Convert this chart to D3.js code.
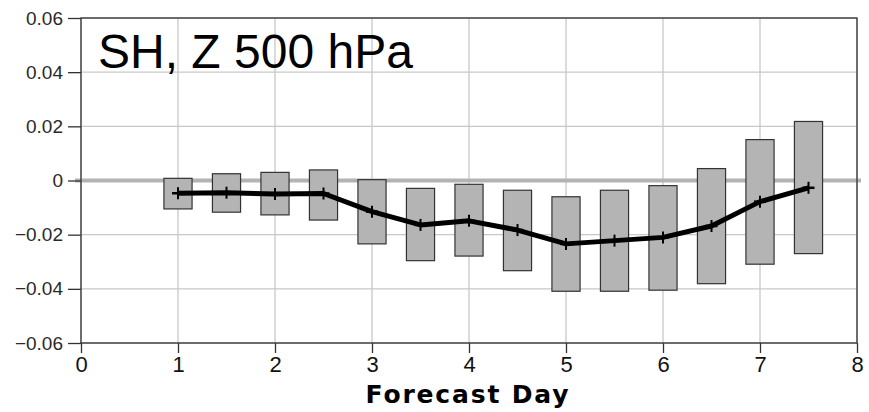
<!DOCTYPE html>
<html>
<head>
<meta charset="utf-8">
<script src="https://cdn.jsdelivr.net/npm/d3@7"></script>
<style>
  body { margin: 0; background: #fff; }
  svg { display: block; font-family: "Liberation Sans", Arial, sans-serif; }
</style>
</head>
<body>
<div id="chart"></div>
<script>
// forecast days
const days = [1, 1.5, 2, 2.5, 3, 3.5, 4, 4.5, 5, 5.5, 6, 6.5, 7, 7.5];
// box top / bottom and mean values
const boxHigh = [0.0008, 0.0025, 0.003, 0.0039, 0.0003, -0.0029, -0.0014, -0.0036, -0.006, -0.0036, -0.0019, 0.0044, 0.0151, 0.0218];
const boxLow = [-0.0105, -0.0117, -0.0127, -0.0146, -0.0234, -0.0296, -0.0279, -0.0333, -0.0409, -0.0409, -0.0405, -0.0381, -0.0309, -0.027];
const meanVals = [-0.0047, -0.0045, -0.005, -0.0048, -0.0115, -0.0164, -0.0149, -0.0183, -0.0234, -0.0222, -0.021, -0.0168, -0.0078, -0.0027];
const xTicks = [0, 1, 2, 3, 4, 5, 6, 7, 8];
const yTicks = [-0.06, -0.04, -0.02, 0, 0.02, 0.04, 0.06];
const title = "SH, Z 500 hPa";
const xLabel = "Forecast Day";

const W = 869, H = 412;
const margin = { top: 18, right: 12, bottom: 69, left: 81 };
const width = W - margin.left - margin.right;
const height = H - margin.top - margin.bottom;

const svg = d3.select("#chart").append("svg")
  .attr("width", W)
  .attr("height", H);

const g = svg.append("g")
  .attr("transform", `translate(${margin.left},${margin.top})`);

const x = d3.scaleLinear().domain([0, 8]).range([0, width]);
const y = d3.scaleLinear().domain([-0.06, 0.06]).range([height, 0]);

// grid
g.append("g").selectAll("line").data(xTicks).join("line")
  .attr("x1", d => x(d)).attr("x2", d => x(d))
  .attr("y1", 0).attr("y2", height)
  .attr("stroke", "#c8c8c8").attr("stroke-width", 1.3);
g.append("g").selectAll("line").data(yTicks).join("line")
  .attr("x1", 0).attr("x2", width)
  .attr("y1", d => y(d)).attr("y2", d => y(d))
  .attr("stroke", "#c8c8c8").attr("stroke-width", 1.3);

// zero line
g.append("line")
  .attr("x1", -6).attr("x2", width + 4)
  .attr("y1", y(0)).attr("y2", y(0))
  .attr("stroke", "#b3b3b3").attr("stroke-width", 4);

// frame
g.append("rect")
  .attr("width", width).attr("height", height)
  .attr("fill", "none").attr("stroke", "#333").attr("stroke-width", 1.3);

// axes
const yAxis = g.append("g")
  .call(d3.axisLeft(y).tickValues(yTicks).tickSize(13).tickPadding(5)
    .tickFormat(d => d === 0 ? "0" : d3.format(".2f")(d)));
yAxis.select(".domain").remove();
yAxis.selectAll("line").attr("stroke", "#333").attr("stroke-width", 1.3);
yAxis.selectAll("text")
  .attr("font-size", 19)
  .attr("font-family", "Liberation Sans, Arial, sans-serif")
  .attr("fill", "#2a2a2a");

const xAxis = g.append("g")
  .attr("transform", `translate(0,${height})`)
  .call(d3.axisBottom(x).tickValues(xTicks).tickSize(10).tickPadding(3).tickFormat(d3.format("d")));
xAxis.select(".domain").remove();
xAxis.selectAll("line").attr("stroke", "#333").attr("stroke-width", 1.3);
xAxis.selectAll("text")
  .attr("font-size", 22)
  .attr("font-family", "Liberation Sans, Arial, sans-serif")
  .attr("fill", "#111");

// boxes
const boxW = 0.29;
g.append("g").selectAll("rect").data(days).join("rect")
  .attr("x", d => x(d - boxW / 2))
  .attr("width", x(boxW) - x(0))
  .attr("y", (d, i) => y(boxHigh[i]))
  .attr("height", (d, i) => y(boxLow[i]) - y(boxHigh[i]))
  .attr("fill", "#b4b4b4")
  .attr("stroke", "#333")
  .attr("stroke-width", 1.2);

// mean line
const pts = days.map((d, i) => [d, meanVals[i]]);
g.append("path")
  .datum(pts)
  .attr("fill", "none")
  .attr("stroke", "#000")
  .attr("stroke-width", 5)
  .attr("stroke-linejoin", "round")
  .attr("d", d3.line().x(d => x(d[0])).y(d => y(d[1])));

// plus markers
const marks = g.append("g").selectAll("g").data(pts).join("g")
  .attr("transform", d => `translate(${x(d[0])},${y(d[1])})`);
marks.append("line")
  .attr("x1", -6).attr("x2", 6).attr("y1", 0).attr("y2", 0)
  .attr("stroke", "#000").attr("stroke-width", 2.5);
marks.append("line")
  .attr("x1", 0).attr("x2", 0).attr("y1", -6).attr("y2", 6)
  .attr("stroke", "#000").attr("stroke-width", 2);

// title inside plot
g.append("text")
  .attr("x", 17).attr("y", 50)
  .attr("font-size", 48)
  .attr("fill", "#000")
  .text(title);

// x label
svg.append("text")
  .attr("x", 467).attr("y", 403)
  .attr("text-anchor", "middle")
  .attr("font-family", "DejaVu Sans, sans-serif")
  .attr("font-size", 25)
  .attr("font-weight", "bold")
  .attr("textLength", 203)
  .attr("lengthAdjust", "spacing")
  .text(xLabel);
</script>
</body>
</html>
